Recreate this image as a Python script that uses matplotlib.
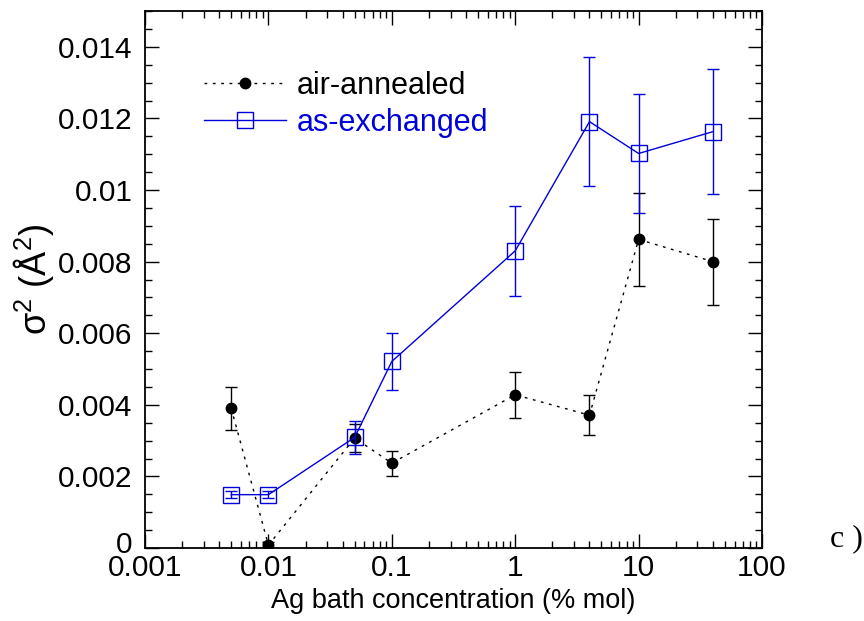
import numpy as np
import matplotlib.pyplot as plt
import matplotlib.transforms as mtransforms
from matplotlib.ticker import NullFormatter, LogLocator, MultipleLocator

plt.rcParams['font.family'] = ['Liberation Sans', 'DejaVu Sans']
plt.rcParams['mathtext.fontset'] = 'custom'
plt.rcParams['mathtext.rm'] = 'Liberation Sans'
plt.rcParams['mathtext.it'] = 'Liberation Sans'

# air-annealed
conc_air = [0.005, 0.01, 0.05, 0.1, 1, 4, 10, 40]
sig_air = [0.0039, 0.00008, 0.00307, 0.00237, 0.00428, 0.00371, 0.00862, 0.0080]
err_air = [0.0006, 0.0001, 0.0004, 0.00035, 0.00065, 0.00055, 0.0013, 0.0012]

# as-exchanged
conc_ex = [0.005, 0.01, 0.05, 0.1, 1, 4, 10, 40]
sig_ex = [0.00149, 0.00149, 0.00309, 0.00521, 0.0083, 0.01191, 0.01102, 0.01163]
err_ex = [0.0001, 0.0001, 0.00047, 0.0008, 0.00125, 0.0018, 0.00165, 0.00174]

fig = plt.figure(figsize=(8.64, 6.21), dpi=100)
ax = fig.add_axes([145/864, 1-548/621, 617/864, 537/621])

ax.errorbar(conc_air, sig_air, yerr=err_air, fmt='none', ecolor='black',
            elinewidth=1, capsize=4, capthick=1)
ax.plot(conc_air, sig_air, color='black', ls=(0, (2, 4)), lw=1,
        marker='o', ms=7.5, mfc='black', mec='black', label='air-annealed')

ax.errorbar(conc_ex, sig_ex, yerr=err_ex, fmt='none', ecolor='#0000dd',
            elinewidth=1, capsize=4, capthick=1)
ax.plot(conc_ex, sig_ex, color='#0000dd', ls='-', lw=1,
        marker='s', ms=11, mfc='none', mec='#0000dd', mew=1, label='as-exchanged')

ax.set_xscale('log')
ax.set_xlim(0.001, 100)
ax.set_ylim(0, 0.015)
ax.set_xticks([0.001, 0.01, 0.1, 1, 10, 100])
ax.set_xticklabels(['0.001', '0.01', '0.1', '1', '10', '100'])
ax.xaxis.set_minor_locator(LogLocator(base=10, subs=np.arange(2, 10)))
ax.xaxis.set_minor_formatter(NullFormatter())
ax.set_yticks(np.arange(0, 0.0141, 0.002))
ax.set_yticklabels(['0', '0.002', '0.004', '0.006', '0.008', '0.01', '0.012', '0.014'])
ax.yaxis.set_minor_locator(MultipleLocator(0.0005))

ax.tick_params(which='both', direction='in', top=True, right=True, labelsize=21.5)
ax.tick_params(which='major', length=10, width=1)
ax.tick_params(which='minor', length=5, width=1)
ax.tick_params(axis='x', pad=4)
ax.tick_params(axis='y', pad=9)
for s in ax.spines.values():
    s.set_linewidth(1.3)

# the "0" label sits a little higher, clear of the x labels
zero_lbl = ax.get_yticklabels()[0]
zero_lbl.set_transform(zero_lbl.get_transform() +
                       mtransforms.ScaledTranslation(0, 6/100, fig.dpi_scale_trans))

ax.set_xlabel('Ag bath concentration (% mol)', fontsize=19.5, labelpad=5)
ax.set_ylabel(r'$\mathregular{\sigma^2\ (\AA^2)}$', fontsize=26, labelpad=1)

ax.legend(loc='upper left', bbox_to_anchor=(0.085, 0.90), frameon=False,
          fontsize=22, handlelength=2.7, handletextpad=0.36,
          labelcolor=['black', '#0000dd'], labelspacing=0.22,
          borderpad=0.2, borderaxespad=0)

fig.text(846/864, 1-539/621, 'c )', family='Liberation Serif', fontsize=23,
         va='center', ha='center')

fig.savefig('out.png', dpi=100)
